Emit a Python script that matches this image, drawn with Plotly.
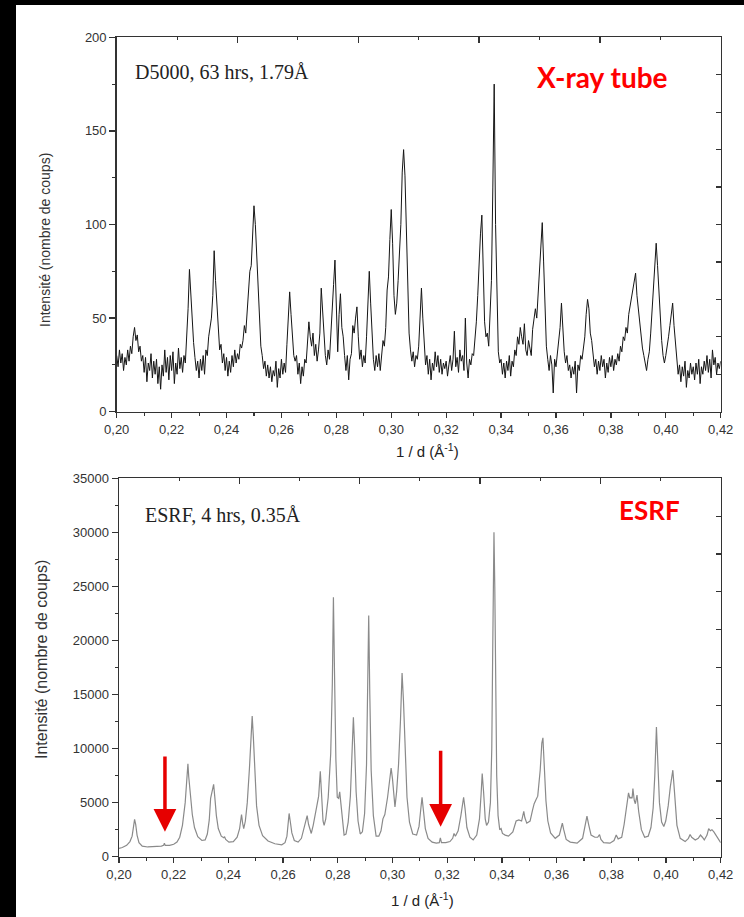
import numpy as np
import plotly.graph_objects as go

W, H = 744, 917

# ---------------- data ----------------
# X-ray tube (D5000) pattern: intensity read every 0.0005 Å^-1 from 0.200 to 0.420
XRAY_START = 0.20
XRAY_STEP = 0.0005
xray_y = [
    30, 24, 33, 26, 31, 22, 29, 25, 33, 27, 35, 31, 40, 45, 38, 41, 32, 35, 27, 30,
    21, 29, 16, 26, 22, 31, 18, 27, 20, 28, 15, 24, 12, 25, 19, 33, 21, 29, 17, 30,
    22, 32, 15, 26, 20, 34, 23, 29, 21, 30, 26, 38, 55, 76, 62, 48, 37, 29, 22, 27,
    18, 28, 22, 30, 20, 33, 30, 40, 45, 50, 62, 86, 70, 55, 44, 33, 36, 26, 31, 22,
    29, 19, 27, 21, 30, 24, 33, 26, 31, 28, 36, 34, 38, 46, 42, 55, 62, 75, 78, 95,
    110, 100, 84, 60, 45, 35, 30, 23, 27, 19, 25, 18, 24, 16, 22, 19, 27, 13, 23, 18,
    28, 20, 26, 21, 36, 50, 64, 52, 40, 30, 27, 30, 20, 26, 15, 24, 19, 28, 26, 38,
    48, 40, 35, 42, 30, 36, 27, 33, 42, 66, 52, 38, 30, 25, 33, 28, 40, 50, 68, 81,
    55, 32, 52, 63, 45, 40, 30, 22, 30, 17, 28, 31, 46, 42, 50, 56, 40, 28, 33, 24,
    30, 26, 40, 55, 75, 58, 40, 28, 22, 30, 24, 31, 22, 33, 38, 35, 45, 65, 72, 92,
    108, 90, 62, 52, 58, 70, 85, 100, 128, 140, 126, 95, 60, 42, 33, 27, 32, 24, 30, 28,
    35, 48, 66, 50, 35, 25, 30, 20, 28, 17, 26, 22, 32, 24, 30, 21, 28, 20, 26, 23,
    27, 19, 25, 30, 22, 28, 43, 24, 29, 21, 33, 27, 30, 22, 50, 26, 18, 28, 25, 31,
    30, 38, 48, 62, 80, 95, 105, 75, 48, 40, 42, 35, 50, 70, 120, 175, 100, 55, 32, 26,
    28, 20, 26, 18, 27, 22, 30, 19, 27, 24, 33, 30, 40, 36, 45, 40, 36, 47, 33, 30,
    38, 34, 30, 44, 50, 55, 50, 62, 75, 88, 101, 80, 52, 35, 28, 22, 30, 25, 10, 28,
    24, 32, 36, 45, 58, 44, 32, 26, 30, 22, 25, 18, 24, 20, 27, 10, 25, 22, 30, 28,
    35, 40, 52, 60, 55, 42, 38, 30, 24, 28, 20, 27, 22, 30, 24, 28, 18, 26, 21, 29,
    24, 30, 22, 28, 25, 31, 27, 35, 32, 40, 38, 45, 42, 52, 56, 60, 64, 68, 74, 62,
    55, 48, 40, 34, 30, 25, 22, 28, 32, 42, 55, 70, 80, 90, 78, 62, 48, 38, 30, 26,
    30, 34, 40, 46, 52, 58, 46, 36, 27, 20, 25, 16, 24, 19, 27, 13, 22, 18, 26, 20,
    24, 17, 26, 20, 28, 15, 24, 20, 27, 22, 30, 21, 28, 18, 33, 25, 29, 20, 26, 23,
    27,
]
xray_x = np.round(XRAY_START + XRAY_STEP * np.arange(len(xray_y)), 4)

# ESRF pattern (x in Å^-1, intensity in counts)
esrf_x = [
    0.2000, 0.2012, 0.2028, 0.2040, 0.2048, 0.2053, 0.2057, 0.2061, 0.2066, 0.2073,
    0.2085, 0.2105, 0.2130, 0.2155, 0.2163, 0.2166, 0.2169, 0.2185, 0.2200, 0.2212,
    0.2222, 0.2232, 0.2242, 0.2249, 0.2252, 0.2255, 0.2258, 0.2262, 0.2268, 0.2276,
    0.2288, 0.2303, 0.2315, 0.2323, 0.2330, 0.2335, 0.2339, 0.2343, 0.2346, 0.2350,
    0.2356, 0.2363, 0.2374, 0.2383, 0.2386, 0.2390, 0.2402, 0.2418, 0.2432, 0.2441,
    0.2446, 0.2448, 0.2452, 0.2456, 0.2462, 0.2469, 0.2477, 0.2483, 0.2487, 0.2491,
    0.2496, 0.2503, 0.2512, 0.2525, 0.2545, 0.2570, 0.2595, 0.2607, 0.2614, 0.2618,
    0.2622, 0.2626, 0.2632, 0.2641, 0.2655, 0.2667, 0.2677, 0.2684, 0.2688, 0.2693,
    0.2699, 0.2703, 0.2710, 0.2717, 0.2722, 0.2730, 0.2736, 0.2741, 0.2746, 0.2750,
    0.2756, 0.2765, 0.2774, 0.2780, 0.2784, 0.2788, 0.2793, 0.2798, 0.2803, 0.2807,
    0.2811, 0.2817, 0.2823, 0.2830, 0.2838, 0.2846, 0.2853, 0.2857, 0.2861, 0.2867,
    0.2874, 0.2882, 0.2890, 0.2898, 0.2905, 0.2910, 0.2913, 0.2917, 0.2922, 0.2930,
    0.2940, 0.2950, 0.2958, 0.2965, 0.2972, 0.2982, 0.2990, 0.2995, 0.3000, 0.3005,
    0.3009, 0.3015, 0.3022, 0.3029, 0.3035, 0.3040, 0.3046, 0.3053, 0.3062, 0.3074,
    0.3088, 0.3097, 0.3103, 0.3108, 0.3113, 0.3120, 0.3130, 0.3145, 0.3160, 0.3171,
    0.3175, 0.3179, 0.3195, 0.3210, 0.3220, 0.3225, 0.3230, 0.3240, 0.3250, 0.3256,
    0.3260, 0.3265, 0.3272, 0.3283, 0.3295, 0.3308, 0.3318, 0.3324, 0.3328, 0.3333,
    0.3339, 0.3344, 0.3351, 0.3358, 0.3363, 0.3366, 0.3369, 0.3371, 0.3374, 0.3377,
    0.3381, 0.3386, 0.3392, 0.3397, 0.3402, 0.3412, 0.3424, 0.3440, 0.3452, 0.3462,
    0.3472, 0.3480, 0.3484, 0.3491, 0.3503, 0.3512, 0.3518, 0.3525, 0.3531, 0.3540,
    0.3546, 0.3550, 0.3555, 0.3561, 0.3568, 0.3578, 0.3595, 0.3610, 0.3617, 0.3621,
    0.3626, 0.3635, 0.3650, 0.3675, 0.3695, 0.3705, 0.3711, 0.3717, 0.3726, 0.3740,
    0.3750, 0.3757, 0.3762, 0.3772, 0.3795, 0.3810, 0.3818, 0.3825, 0.3838, 0.3847,
    0.3855, 0.3863, 0.3868, 0.3872, 0.3876, 0.3879, 0.3884, 0.3888, 0.3894, 0.3900,
    0.3910, 0.3922, 0.3935, 0.3945, 0.3953, 0.3959, 0.3965, 0.3970, 0.3976, 0.3984,
    0.3992, 0.3999, 0.4008, 0.4016, 0.4025, 0.4031, 0.4040, 0.4052, 0.4070, 0.4082,
    0.4088, 0.4094, 0.4107, 0.4118, 0.4126, 0.4133, 0.4140, 0.4150, 0.4156, 0.4162,
    0.4168, 0.4175, 0.4180, 0.4190, 0.4200,
]
esrf_y = [
    760, 850, 1050, 1400, 1900, 2700, 3450, 3000, 2000, 1300,
    980, 900, 920, 980, 1050, 1250, 1050, 1050, 1150, 1350,
    1800, 2900, 5000, 7500, 8600, 7400, 6700, 5600, 3900, 2700,
    1850, 1500, 1550, 2100, 3400, 5400, 5800, 6200, 6700, 5600,
    3800, 2600, 1900, 1750, 1850, 1600, 1350, 1400, 1800, 2600,
    3700, 3900, 3100, 2600, 3300, 5000, 8200, 11500, 13000, 11200,
    7800, 4700, 2900, 1950, 1450, 1200, 1100, 1300, 1900, 2800,
    4000, 3300, 2200, 1500, 1350, 1700, 2700, 3600, 3800, 3000,
    2300, 2150, 2900, 3900, 4300, 5600, 7900, 5500, 3300, 2900,
    3500, 5500, 9500, 16000, 24000, 17000, 9000, 5500, 5400, 6000,
    5000, 3000, 2000, 2100, 3200, 5600, 9500, 12900, 10500, 6000,
    3300, 2100, 2300, 4000, 8500, 16000, 22300, 15000, 8000, 3800,
    1900, 1900, 2400, 3500, 3900, 5500, 7400, 8200, 7200, 5300,
    4600, 6000, 8500, 12500, 17000, 14500, 9500, 5500, 3200, 2100,
    2000, 2800, 4300, 5500, 4300, 2600, 1700, 1350, 1250, 1300,
    1750, 1300, 1300, 1400, 1700, 2150, 1900, 2400, 3800, 5000,
    5500, 4500, 2700, 1800, 1550, 2000, 3500, 5800, 7700, 6000,
    3500, 2900, 3200, 5000, 10000, 18000, 26000, 30000, 25000, 15000,
    7500, 3800, 2500, 2600, 2150, 2000, 1900, 2300, 3300, 3400,
    3300, 4200, 3600, 3100, 3300, 4300, 4900, 5300, 5600, 8000,
    10500, 11000, 8500, 5200, 3300, 2200, 1700, 2000, 2700, 3100,
    2500, 1600, 1350, 1250, 1700, 2900, 3750, 3000, 2000, 1800,
    1800, 2050, 1600, 1300, 1250, 1500, 2000, 1650, 1800, 3000,
    4600, 5900, 5400, 5500, 5400, 6300, 5200, 4900, 5700, 4200,
    2500, 1800, 1900, 2700, 4500, 7500, 12000, 9000, 5000, 3200,
    2800, 3300, 4700, 6500, 8000, 6000, 2900, 1700, 1400, 1700,
    2050, 1800, 1550, 1700, 2000, 1800, 1550, 2000, 2600, 2400,
    2500, 2300, 2100, 1700, 1300,
]

# tick labels
x_ticks = [0.20, 0.22, 0.24, 0.26, 0.28, 0.30, 0.32, 0.34, 0.36, 0.38, 0.40, 0.42]
x_labels = ["0,20", "0,22", "0,24", "0,26", "0,28", "0,30", "0,32", "0,34", "0,36", "0,38", "0,40", "0,42"]
y1_ticks = [0, 50, 100, 150, 200]
y2_ticks = [0, 5000, 10000, 15000, 20000, 25000, 30000, 35000]

# arrows marking weak ESRF reflections (x, tip intensity, tail intensity)
arrow_x = [0.2168, 0.3176]
arrow_tip = [2310, 2775]
arrow_tail = [9400, 9935]

# ---------------- figure ----------------
AX = "#333333"
TICKFONT = dict(family="Liberation Sans, Arial, sans-serif", size=13, color="#333333")


def px_x(p):
    return p / W


def px_y(p):
    return 1 - p / H


fig = go.Figure()
fig.add_trace(go.Scatter(x=xray_x, y=xray_y, mode="lines",
                         line=dict(color="#151515", width=1.0),
                         xaxis="x", yaxis="y", hoverinfo="skip"))
fig.add_trace(go.Scatter(x=esrf_x, y=esrf_y, mode="lines",
                         line=dict(color="#8a8a8a", width=1.2),
                         xaxis="x2", yaxis="y2", hoverinfo="skip"))
# helper traces so the mirrored tick axes get drawn
fig.add_trace(go.Scatter(x=[None], y=[None], xaxis="x3", yaxis="y3", hoverinfo="skip"))
fig.add_trace(go.Scatter(x=[None], y=[None], xaxis="x4", yaxis="y4", hoverinfo="skip"))


def main_x(domain, anchor):
    return dict(domain=domain, anchor=anchor, range=[0.2, 0.42], automargin=False,
                tickmode="array", tickvals=x_ticks, ticktext=x_labels,
                ticks="outside", ticklen=5, tickwidth=1.3, tickcolor=AX,
                minor=dict(tickmode="linear", tick0=0.21, dtick=0.02,
                           ticks="outside", ticklen=3, tickwidth=1.1, tickcolor=AX),
                showline=True, linecolor=AX, linewidth=1.5, mirror=True,
                showgrid=False, zeroline=False, tickfont=TICKFONT)


def main_y(domain, anchor, rng, ticks, minor_d):
    return dict(domain=domain, anchor=anchor, range=rng, automargin=False,
                tickmode="array", tickvals=ticks, ticktext=[str(t) for t in ticks],
                ticks="outside", ticklen=6, tickwidth=1.3, tickcolor=AX,
                minor=dict(tickmode="linear", tick0=minor_d, dtick=2 * minor_d,
                           ticks="outside", ticklen=3, tickwidth=1.1, tickcolor=AX),
                showline=True, linecolor=AX, linewidth=1.5, mirror=True,
                showgrid=False, zeroline=False, tickfont=TICKFONT)


def top_x(over, anchor):
    return dict(overlaying=over, anchor=anchor, side="top", range=[0.2, 0.42], automargin=False,
                tickmode="linear", tick0=0.2, dtick=0.044,
                ticks="inside", ticklen=6, tickwidth=1.3, tickcolor=AX,
                minor=dict(tickmode="linear", tick0=0.222, dtick=0.044,
                           ticks="inside", ticklen=3, tickwidth=1.1, tickcolor=AX),
                showticklabels=False, showline=False, showgrid=False, zeroline=False)


def right_y(over, anchor, rng, d):
    return dict(overlaying=over, anchor=anchor, side="right", range=rng, automargin=False,
                tickmode="linear", tick0=0, dtick=d,
                ticks="inside", ticklen=5, tickwidth=1.2, tickcolor=AX,
                showticklabels=False, showline=False, showgrid=False, zeroline=False)


top_xdom = [px_x(116.7), px_x(720.7)]
top_ydom = [px_y(411.7), px_y(37.3)]
bot_xdom = [px_x(119), px_x(720.7)]
bot_ydom = [px_y(856.7), px_y(478.3)]

fig.update_layout(
    width=W, height=H, margin=dict(l=0, r=0, t=0, b=0, pad=0), autosize=False,
    paper_bgcolor="black", plot_bgcolor="white", showlegend=False,
    xaxis=main_x(top_xdom, "y"),
    yaxis=main_y(top_ydom, "x", [0, 200], y1_ticks, 25),
    xaxis2=main_x(bot_xdom, "y2"),
    yaxis2=main_y(bot_ydom, "x2", [0, 35000], y2_ticks, 2500),
    xaxis3=top_x("x", "y"),
    yaxis3=right_y("y", "x", [0, 200], 20),
    xaxis4=top_x("x2", "y2"),
    yaxis4=right_y("y2", "x2", [0, 35000], 3500),
)

serif = dict(family="Liberation Serif, Times New Roman, serif", size=20, color="#222222")
ytitle = "Intensité (nombre de coups)"
xtitle = "1 / d (Å<sup>-1</sup>)"

ann = [
    dict(text="D5000, 63 hrs, 1.79Å", x=px_x(132.7), y=px_y(71.7), xanchor="left", yanchor="middle", font=serif),
    dict(text="X-ray tube", x=px_x(602.5), y=px_y(76.7), xanchor="center", yanchor="middle",
         font=dict(family="Lato, Open Sans, sans-serif", size=28, color="#ff0000", weight="bold")),
    dict(text="ESRF, 4 hrs, 0.35Å", x=px_x(143), y=px_y(515), xanchor="left", yanchor="middle", font=serif),
    dict(text="ESRF", x=px_x(649.5), y=px_y(510), xanchor="center", yanchor="middle",
         font=dict(family="Lato, Open Sans, sans-serif", size=26, color="#ff0000", weight="bold")),
    dict(text=ytitle, x=px_x(45), y=px_y(240), textangle=-90, xanchor="center", yanchor="middle",
         font=dict(family="Liberation Sans, Arial, sans-serif", size=14, color="#333333")),
    dict(text=ytitle, x=px_x(41), y=px_y(660), textangle=-90, xanchor="center", yanchor="middle",
         font=dict(family="Liberation Sans, Arial, sans-serif", size=16, color="#333333")),
    dict(text=xtitle, x=px_x(427), y=px_y(450), xanchor="center", yanchor="middle",
         font=dict(family="Liberation Sans, Arial, sans-serif", size=15, color="#222222")),
    dict(text=xtitle, x=px_x(422), y=px_y(899), xanchor="center", yanchor="middle",
         font=dict(family="Liberation Sans, Arial, sans-serif", size=15, color="#222222")),
]
for a in ann:
    a.update(xref="paper", yref="paper", showarrow=False)

for xa, tip, tail in zip(arrow_x, arrow_tip, arrow_tail):
    ann.append(dict(x=xa, y=tip, ax=xa, ay=tail, xref="x2", yref="y2", axref="x2", ayref="y2",
                    text="", showarrow=True, arrowhead=2, arrowsize=1.3, arrowwidth=3.5,
                    arrowcolor="#e60000"))

fig.update_layout(annotations=ann)

# the page is black; a white sheet leaves the original picture's black left and top bands
fig.update_layout(shapes=[
    dict(type="rect", xref="paper", yref="paper", x0=16 / W, x1=1.02, y0=-0.02, y1=1 - 5 / H,
         fillcolor="white", line=dict(width=0), layer="below"),
])

# remove the page's default body margin so the figure sits at the window origin
fig.write_html("out.html",
               config={"displayModeBar": False, "staticPlot": True},
               post_script="document.body.style.margin='0';document.body.style.background='black';")
